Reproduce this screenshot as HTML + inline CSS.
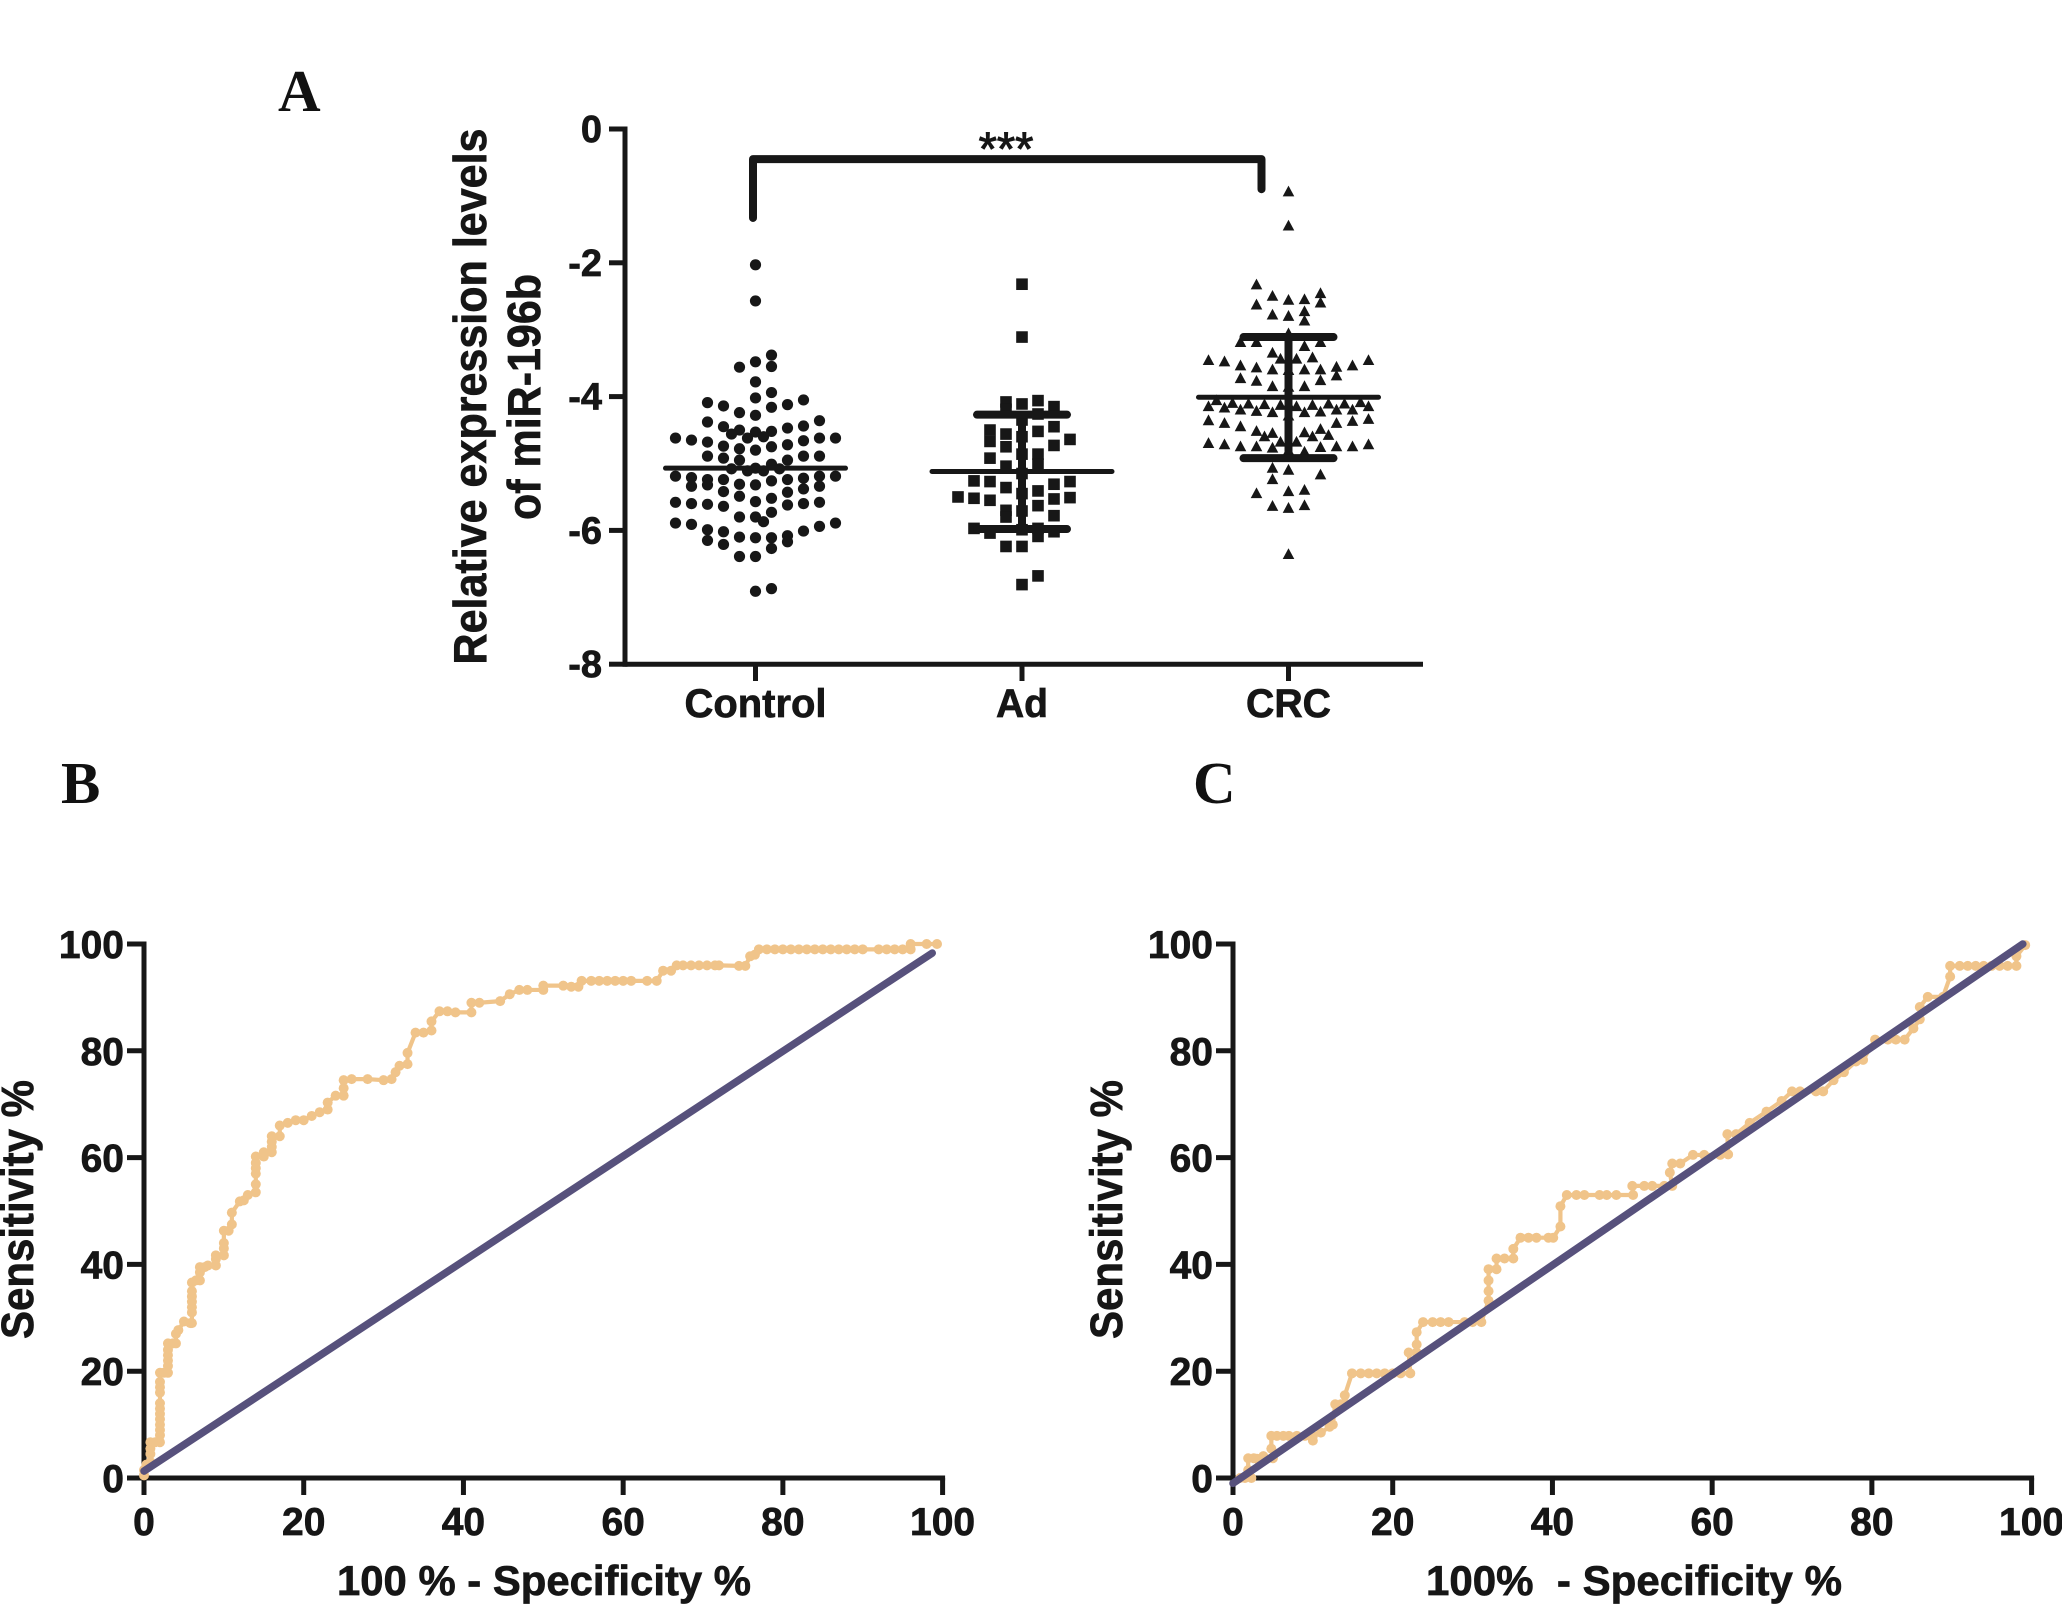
<!DOCTYPE html>
<html lang="en">
<head>
<meta charset="utf-8">
<title>miR-196b expression and ROC curves</title>
<style>
html,body{margin:0;padding:0;background:#fff;}
svg{display:block;}
text{font-family:"Liberation Sans",sans-serif;font-weight:bold;fill:#161616;stroke:#161616;stroke-width:0.7;}
.panel{font-family:"Liberation Serif",serif;font-weight:bold;font-size:59px;fill:#111;stroke:none;}
</style>
</head>
<body>
<svg id="figure" xmlns="http://www.w3.org/2000/svg" width="2062" height="1606" viewBox="0 0 2062 1606">
  <rect x="0" y="0" width="2062" height="1606" fill="#fff"/>
  <text class="panel" x="278" y="111">A</text>
  <text class="panel" x="61" y="803">B</text>
  <text class="panel" x="1193" y="803">C</text>

  <text transform="translate(486,396.5) rotate(-90)" text-anchor="middle" font-size="46" textLength="536" lengthAdjust="spacingAndGlyphs">Relative expression levels</text>
  <text transform="translate(540,397) rotate(-90)" text-anchor="middle" font-size="46" textLength="246" lengthAdjust="spacingAndGlyphs">of miR-196b</text>
  <text x="1006" y="165" text-anchor="middle" font-size="47" style="font-weight:normal;stroke-width:1">***</text>

  <text transform="translate(33,1209.5) rotate(-90)" text-anchor="middle" font-size="45" textLength="259" lengthAdjust="spacingAndGlyphs">Sensitivity %</text>
  <text x="337" y="1595" font-size="42" textLength="414" lengthAdjust="spacingAndGlyphs">100 % - Specificity %</text>
  <text transform="translate(1122,1209.5) rotate(-90)" text-anchor="middle" font-size="45" textLength="259" lengthAdjust="spacingAndGlyphs">Sensitivity %</text>
  <text x="1426" y="1595" font-size="42" textLength="416" lengthAdjust="spacingAndGlyphs" xml:space="preserve">100%  - Specificity %</text>
</svg>
<script>
/* ---------- Panel A data ---------- */
const groupLabels = ['Control', 'Ad', 'CRC'];
const scatterTicks = [0, -2, -4, -6, -8];

const controlSlots = [0, 1, -1, -2, -3, -4, -5, 2, 3, 4, 5, -1.5, -0.5, 0.5, 1.5];
const controlValues = [
  [-2.03,-2.57,-3.48,-3.78,-4.02,-4.28,-4.53,-4.80,-5.07,-5.32,-5.57,-5.80,-6.11,-6.39,-6.91],
  [-3.38,-3.55,-3.94,-4.16,-4.52,-4.75,-5.01,-5.26,-5.52,-5.73,-6.11,-6.27,-6.87],
  [-3.56,-4.24,-4.50,-4.78,-4.95,-5.31,-5.49,-5.80,-6.10,-6.39],
  [-4.14,-4.45,-4.74,-4.92,-5.24,-5.42,-5.64,-6.02,-6.21],
  [-4.09,-4.38,-4.68,-4.89,-5.24,-5.32,-5.61,-5.99,-6.15],
  [-4.65,-5.21,-5.34,-5.60,-5.91],
  [-4.62,-5.19,-5.58,-5.89],
  [-4.12,-4.47,-4.72,-4.95,-5.24,-5.43,-5.62,-6.08,-6.17],
  [-4.05,-4.44,-4.66,-4.89,-5.22,-5.38,-5.60,-6.01],
  [-4.36,-4.62,-4.89,-5.19,-5.34,-5.58,-5.94],
  [-4.62,-5.19,-5.89],
  [-4.56,-5.08],
  [-4.62,-5.11],
  [-4.60,-5.11,-5.87],
  [-5.08]
];

const adSlots = [0, 1, 2, 3, -1, -2, -3, -4];
const adValues = [
  [-2.32,-3.11,-4.11,-4.35,-4.60,-4.86,-5.15,-5.45,-5.71,-5.99,-6.24,-6.81],
  [-4.06,-4.26,-4.52,-4.86,-5.01,-5.41,-5.63,-5.97,-6.09,-6.68],
  [-4.15,-4.45,-4.73,-5.31,-5.53,-5.78,-6.02],
  [-4.64,-5.27,-5.51],
  [-4.08,-4.19,-4.56,-4.75,-5.04,-5.36,-5.70,-5.80,-6.24],
  [-4.50,-4.67,-4.92,-5.27,-5.55,-6.04],
  [-5.26,-5.52,-5.97],
  [-5.50]
];

const crcSlots = [0, 1, -1, 2, 3, 4, 5, -2, -3, -4, -5, -1.5, -0.5, 0.5, 1.5, 2.5, -3.5, -4.5, -2.5, 3.5, 4.5];
const crcValues = [
  [-0.93,-1.44,-2.55,-2.79,-3.05,-3.60,-3.85,-4.10,-4.28,-4.80,-5.09,-5.41,-5.66,-6.35],
  [-2.54,-2.72,-2.86,-3.24,-3.59,-3.84,-4.23,-4.53,-4.82,-5.39,-5.62],
  [-2.49,-2.77,-3.34,-3.59,-3.84,-4.23,-4.54,-4.76,-5.06,-5.23,-5.63],
  [-2.45,-2.59,-3.18,-3.59,-3.75,-4.22,-4.48,-4.75,-5.16],
  [-3.55,-3.68,-4.19,-4.39,-4.74],
  [-3.53,-4.19,-4.36,-4.74],
  [-3.45,-4.14,-4.33,-4.71],
  [-2.32,-2.62,-3.18,-3.56,-3.76,-4.21,-4.51,-4.74,-5.44],
  [-3.18,-3.53,-3.72,-4.19,-4.44,-4.74],
  [-3.47,-4.16,-4.39,-4.71],
  [-3.45,-4.14,-4.35,-4.69],
  [-4.11,-4.59],
  [-3.43,-4.12,-4.67],
  [-3.43,-4.14,-4.67],
  [-3.41,-4.12,-4.59],
  [-4.10,-4.57],
  [-4.09],
  [-4.05],
  [-4.10],
  [-4.10],
  [-4.08]
];

const groupMeans = [-5.07, -5.12, -4.01];
const groupSdUpper = [null, -4.27, -3.11];
const groupSdLower = [null, -5.98, -4.92];
const bracketTop = [-0.45];
const bracketEnds = [-1.33, -0.90];

/* ---------- ROC data ---------- */
const rocTicks = [0, 20, 40, 60, 80, 100];

const rocBPoints = [
  [0,0.5],[0,1.5],[0.3,2.5],[0.8,3],[0.8,4.5],[0.8,5.5],[0.8,6.7],[1.4,6.7],[2,6.7],[2,8],[2,9],[2,10],[2,11],[2,12],[2,13],[2,14],[2,16],[2,17],[2,18],[2,19.7],
  [2.5,19.7],[3,19.7],[3,21],[3,22],[3,23],[3,24],[3,25.2],[3.6,25.2],[4,25.2],[4,27],[4.3,27.7],[5,29.3],[5.8,29],[6,29],[6,31],[6,32],[6,33],[6,34],[6,35],[6,36.6],
  [6.5,37],[7,37],[7,38.5],[7,39.5],[7.6,39.5],[8,39.8],[9,39.8],[9,41],[9,41.7],[10,41.7],[10,43],[10,44],[10,46.3],[10.6,46.3],[11,47.5],[11,49.7],[12,51.8],[12.5,52],[13,53],[14,53.5],
  [14,55],[14,57],[14,58],[14,59],[14,60.2],[15,60.2],[15,61],[16,61],[16,62],[16,63],[16,64],[17,64],[17,66],[18,66.5],[19,67],[20,67],[21,67.8],[22,68.5],[23,69],[23,70.3],
  [24,71.6],[25,71.6],[25,73],[25,74.5],[26,74.7],[28,74.7],[30,74.5],[31,74.7],[31.5,76],[32,77.2],[33,77.5],[33,79.6],[34,83.4],[35,83.4],[36,83.8],[36,85.5],[37,87.4],[38,87.4],[39,87.2],[41,87.2],
  [41,89],[42,89],[44.6,89.3],[45.8,90.6],[47,91.4],[48,91.4],[50,91.4],[50,92.2],[52.5,92.2],[53.5,92],[54.4,92],[54.8,93.1],[56,93.1],[57,93.1],[58,93.1],[59,93.1],[60,93.1],[61,93.1],[63,93.1],[64.2,93.1],
  [65,95],[66,95],[66.7,96],[67.5,96],[68.5,96],[69.5,96],[70.5,96],[71.5,96],[72,96],[74.5,95.9],[75.3,95.9],[75.9,97.7],[76.5,98],[77,99],[78,99],[79,99],[80,99],[81,99],[82,99],[83,99],
  [84,99],[85,99],[86,99],[87,99],[88,99],[89,99],[90,99],[92,99],[93,99],[94,99],[95,99],[96,99],[96,100],[98,100],[99.3,100]
];
const refBX = [0, 98.7];
const refBY = [1.3, 98.3];

const rocCPoints = [
  [0.9,0],[1.5,0],[2.3,0],[1.9,1.5],[1.9,3.7],[2.6,3.7],[3,3.6],[3.8,4.1],[5,3.7],[4.8,5.5],[4.8,7.9],[5.5,7.9],[6.3,7.9],[7,7.9],[8,7.9],[9,7.9],[10,7],[10,7.9],[11,8.5],[12.1,9.6],
  [12.5,10],[12.8,13.8],[13.5,13.8],[14,14],[14,15.5],[14.9,19.6],[16,19.6],[17,19.6],[18,19.6],[19,19.6],[20,19.6],[21,19.6],[22.2,19.6],[22,23.5],[23,23.5],[23,25],[23,27.3],[23.8,29.2],[25,29.2],[26,29.2],
  [27,29.2],[29,29.2],[30,29.2],[31.1,29.2],[32,33.2],[32,35],[32,37],[32,39.1],[33,39.1],[33,41.1],[34,41.1],[35.1,41.1],[35.1,42.9],[36,45],[37,45],[38,45],[39.5,45],[40.1,45],[41,47.1],[41,50.9],
  [41.8,53],[43,53],[44,53],[45.9,53],[46.8,53],[48,53],[50.1,53],[50,54.7],[51.5,54.7],[52.5,54.7],[54,54.7],[55,54.7],[54.7,57.2],[55,58.9],[56,58.9],[57.6,60.5],[59,60.5],[61,60.5],[62,60.6],[61.9,64.4],
  [63,64.4],[64.7,66.5],[66.8,68.6],[68.7,70.6],[70,72.4],[71,72.4],[73,72.4],[73.9,72.4],[75.2,74.5],[76.5,76],[78,78],[78.9,78.3],[80.4,82.1],[82,82.1],[83,82.1],[84.1,82.1],[85.2,84.2],[86,85.9],[86,88.2],[87,90.1],
  [88.9,90.1],[89.8,93.9],[89.8,95.9],[91,95.9],[92,95.9],[93,95.9],[94,95.9],[95,95.9],[96,95.9],[97,95.9],[98.1,95.9],[98.1,97.7],[99.2,99.8]
];
const refCX = [0, 98.9];
const refCY = [-1, 100];

/* ---------- Drawing ---------- */
const NS = 'http://www.w3.org/2000/svg';
const svg = document.getElementById('figure');
const INK = '#171717';
const PEACH = '#f0c48a';
const VIOLET = '#57517c';

function make(tag, attrs) {
  const node = document.createElementNS(NS, tag);
  for (const key in attrs) node.setAttribute(key, attrs[key]);
  svg.appendChild(node);
  return node;
}
function rule(x1, y1, x2, y2, width, cap) {
  return make('line', {x1: x1, y1: y1, x2: x2, y2: y2, stroke: INK, 'stroke-width': width, 'stroke-linecap': cap || 'butt'});
}

/* Panel A axes */
const scatterX = i => 755.5 + i * 266.5;
const scatterY = v => 129 + (0 - v) * 66.9;
const SLOT = 16;

const scatterYAxis = rule(625, scatterY(0) - 2.5, 625, scatterY(-8) + 2.5, 5);


const scatterXAxis = rule(625, scatterY(-8), 1423, scatterY(-8), 5);



scatterTicks.forEach(t => {
  const tick = rule(609, scatterY(t), 625, scatterY(t), 5);
  
  
  const label = make('text', {x: 602, y: scatterY(t) + 13, 'text-anchor': 'end', 'font-size': 38});
  label.textContent = String(t);
  
  
});

const labelWidths = [142, 52, 85];
groupLabels.forEach((name, i) => {
  const tick = rule(scatterX(i), scatterY(-8), scatterX(i), 681, 5);
  
  
  const label = make('text', {x: scatterX(i), y: 717, 'text-anchor': 'middle', 'font-size': 40, textLength: labelWidths[i], lengthAdjust: 'spacingAndGlyphs'});
  label.textContent = name;
  
  
});

/* Panel A marks */
controlSlots.forEach((slot, c) => {
  controlValues[c].forEach(v => {
    const dot = make('circle', {cx: scatterX(0) + slot * SLOT, cy: scatterY(v), r: 5.6, fill: INK});
    
    
  });
});
adSlots.forEach((slot, c) => {
  adValues[c].forEach(v => {
    const square = make('rect', {x: scatterX(1) + slot * SLOT - 5.8, y: scatterY(v) - 5.8, width: 11.6, height: 11.6, fill: INK});
    
    
  });
});
crcSlots.forEach((slot, c) => {
  crcValues[c].forEach(v => {
    const cx = scatterX(2) + slot * SLOT;
    const cy = scatterY(v);
    const tri = make('polygon', {points: (cx - 5.8) + ',' + (cy + 5.2) + ' ' + (cx + 5.8) + ',' + (cy + 5.2) + ' ' + cx + ',' + (cy - 5.6), fill: INK});
    
    
  });
});

/* Mean and SD bars */
groupLabels.forEach((name, i) => {
  const cx = scatterX(i);
  const mean = rule(cx - 90, scatterY(groupMeans[i]), cx + 90, scatterY(groupMeans[i]), 5, 'round');
  
  
  if (groupSdUpper[i] !== null) {
    const stem = rule(cx, scatterY(groupSdUpper[i]), cx, scatterY(groupSdLower[i]), 8);
    
    
    const capTop = rule(cx - 45, scatterY(groupSdUpper[i]), cx + 45, scatterY(groupSdUpper[i]), 8, 'round');
    
    
    const capBottom = rule(cx - 45, scatterY(groupSdLower[i]), cx + 45, scatterY(groupSdLower[i]), 8, 'round');
    
    
  }
});

/* Significance bracket */
const bracketLeft = scatterX(0) - 2.5;
const bracketRight = scatterX(2) - 27;
const bracket = make('polyline', {
  points: bracketLeft + ',' + scatterY(bracketEnds[0]) + ' ' + bracketLeft + ',' + scatterY(bracketTop[0]) + ' ' + bracketRight + ',' + scatterY(bracketTop[0]) + ' ' + bracketRight + ',' + scatterY(bracketEnds[1]),
  fill: 'none', stroke: INK, 'stroke-width': 8, 'stroke-linecap': 'round', 'stroke-linejoin': 'round'
});



/* ROC panels */
function drawRoc(prefix, x0, points, refX, refY) {
  const rx = v => x0 + v * 7.986;
  const ry = v => 1478 - v * 5.34;

  const yAxis = rule(x0, ry(100) - 2.5, x0, ry(0) + 2.5, 5);
  
  
  const xAxis = rule(x0 - 17, ry(0), rx(100) + 2.5, ry(0), 5);
  
  

  rocTicks.forEach(t => {
    const yTick = rule(x0 - 17, ry(t), x0, ry(t), 5);
    
    
    const yLabel = make('text', {x: x0 - 20, y: ry(t) + 14, 'text-anchor': 'end', 'font-size': 39});
    yLabel.textContent = String(t);
    
    
    const xTick = rule(rx(t), ry(0), rx(t), ry(0) + 17, 5);
    
    
    const xLabel = make('text', {x: rx(t), y: 1535, 'text-anchor': 'middle', 'font-size': 39});
    xLabel.textContent = String(t);
    
    
  });

  const curve = make('polyline', {
    points: points.map(p => rx(p[0]) + ',' + ry(p[1])).join(' '),
    fill: 'none', stroke: PEACH, 'stroke-width': 4.2, 'stroke-linejoin': 'round'
  });
  
  

  points.forEach(p => {
    const dot = make('circle', {cx: rx(p[0]), cy: ry(p[1]), r: 5, fill: PEACH});
    
    
  });

  const reference = make('line', {
    x1: rx(refX[0]), y1: ry(refY[0]), x2: rx(refX[1]), y2: ry(refY[1]),
    stroke: VIOLET, 'stroke-width': 7.5, 'stroke-linecap': 'round'
  });
  
  
}

drawRoc('roc-b', 144, rocBPoints, refBX, refBY);
drawRoc('roc-c', 1233, rocCPoints, refCX, refCY);
</script>
</body>
</html>
